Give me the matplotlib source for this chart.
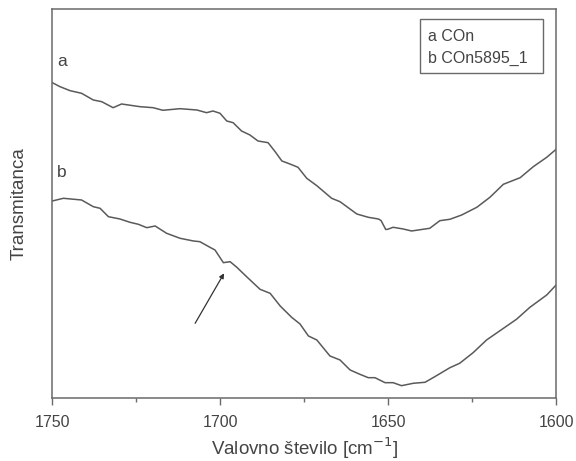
import matplotlib
matplotlib.use("Agg")
import matplotlib.pyplot as plt
from matplotlib.patches import Rectangle
from matplotlib.ticker import MultipleLocator

plt.rcParams['font.family'] = ['Liberation Sans', 'DejaVu Sans']

# spekter a: COn
wn_a = [1750.0, 1747.7, 1744.7, 1741.3, 1737.8, 1735.3, 1731.9, 1729.4, 1723.9, 1720.0,
        1717.1, 1712.0, 1707.0, 1704.1, 1702.2, 1700.1, 1698.1, 1696.2, 1693.7, 1691.2,
        1688.8, 1685.8, 1683.7, 1681.7, 1679.3, 1676.9, 1674.3, 1671.3, 1666.9, 1664.4,
        1659.4, 1656.0, 1653.0, 1652.2, 1650.8, 1650.2, 1648.6, 1645.6, 1643.1, 1637.7,
        1634.7, 1631.7, 1628.2, 1623.7, 1619.8, 1615.8, 1610.8, 1606.9, 1602.9, 1600.1]
t_a = [315.3, 311.3, 307.3, 304.7, 298.0, 296.3, 290.3, 294.0, 291.3, 290.3,
       287.7, 289.3, 288.0, 285.3, 287.0, 284.7, 277.0, 275.3, 267.0, 263.0,
       257.0, 255.3, 246.3, 237.0, 234.0, 230.7, 219.7, 212.3, 199.7, 196.3,
       184.0, 180.7, 179.0, 177.5, 168.5, 168.7, 170.7, 169.0, 167.0, 169.7,
       177.3, 178.7, 183.0, 190.7, 200.7, 213.7, 220.3, 231.3, 240.7, 248.7]

# spekter b: COn5895_1
wn_b = [1750.0, 1746.7, 1741.3, 1737.8, 1735.8, 1733.3, 1729.9, 1726.9, 1724.4, 1721.9,
        1719.4, 1716.0, 1712.0, 1708.0, 1706.1, 1703.1, 1701.6, 1699.1, 1697.1, 1695.1,
        1692.2, 1688.2, 1685.2, 1682.2, 1678.8, 1676.3, 1673.8, 1671.3, 1667.4, 1664.4,
        1661.4, 1658.5, 1656.0, 1654.0, 1651.0, 1648.6, 1646.1, 1642.6, 1639.1, 1636.2,
        1631.7, 1628.8, 1624.8, 1620.8, 1616.8, 1611.9, 1607.9, 1602.9, 1600.1]
t_b = [197.0, 199.7, 198.0, 191.3, 189.7, 181.3, 179.0, 175.7, 173.7, 170.3,
       172.0, 164.7, 159.7, 157.0, 156.3, 150.7, 148.0, 135.3, 136.3, 130.7,
       121.3, 108.7, 104.7, 92.0, 80.7, 74.0, 62.0, 58.0, 42.0, 38.0,
       28.0, 23.7, 20.3, 20.3, 15.3, 15.3, 12.3, 14.7, 15.7, 21.3,
       30.3, 34.7, 45.3, 58.0, 67.3, 78.7, 90.7, 103.0, 113.0]

line_col = '#5a5a5a'
axis_col = '#6a6a6a'
text_col = '#444444'

fig = plt.figure(figsize=(5.76, 4.61), dpi=100)
ax = fig.add_axes([0.0908, 0.1367, 0.8753, 0.8438])

ax.plot(wn_a, t_a, color=line_col, lw=1.1)
ax.plot(wn_b, t_b, color=line_col, lw=1.1)

ax.set_xlim(1750, 1600)
ax.set_ylim(0, 389)

# puscica na ramo pri ~1699 cm-1
ax.annotate('', xy=(1698.9, 124.7), xytext=(1707.5, 74.7),
            arrowprops=dict(arrowstyle='-|>', color='#333333', lw=0.9,
                            mutation_scale=7, shrinkA=0, shrinkB=0))

ax.text(1747.1, 336, 'a', fontsize=12.5, color=text_col, ha='center', va='center')
ax.text(1747.1, 225, 'b', fontsize=12.5, color=text_col, ha='center', va='center')

# okvir z oznakami spektrov
ax.add_patch(Rectangle((0.729, 0.836), 0.2446, 0.1373, transform=ax.transAxes,
                       fc='white', ec=axis_col, lw=1.0, zorder=3))
ax.text(0.745, 0.929, 'a COn', transform=ax.transAxes, fontsize=11.5,
        color=text_col, ha='left', va='center', zorder=4)
ax.text(0.745, 0.874, 'b COn5895_1', transform=ax.transAxes, fontsize=11.5,
        color=text_col, ha='left', va='center', zorder=4)

ax.xaxis.set_major_locator(MultipleLocator(50))
ax.xaxis.set_minor_locator(MultipleLocator(25))
ax.set_yticks([])
ax.tick_params(axis='x', which='major', direction='out', length=5, width=1,
               color=axis_col, labelsize=11.5, labelcolor=text_col, pad=7)
ax.tick_params(axis='x', which='minor', direction='out', length=3, width=1,
               color=axis_col)
for s in ax.spines.values():
    s.set_color(axis_col)
    s.set_linewidth(1.1)

ax.set_xlabel('Valovno število [cm$^{-1}$]', fontsize=13.5, color=text_col, labelpad=4)
ax.set_ylabel('Transmitanca', fontsize=13.5, color=text_col, labelpad=18)

fig.savefig('out.png', dpi=100)
